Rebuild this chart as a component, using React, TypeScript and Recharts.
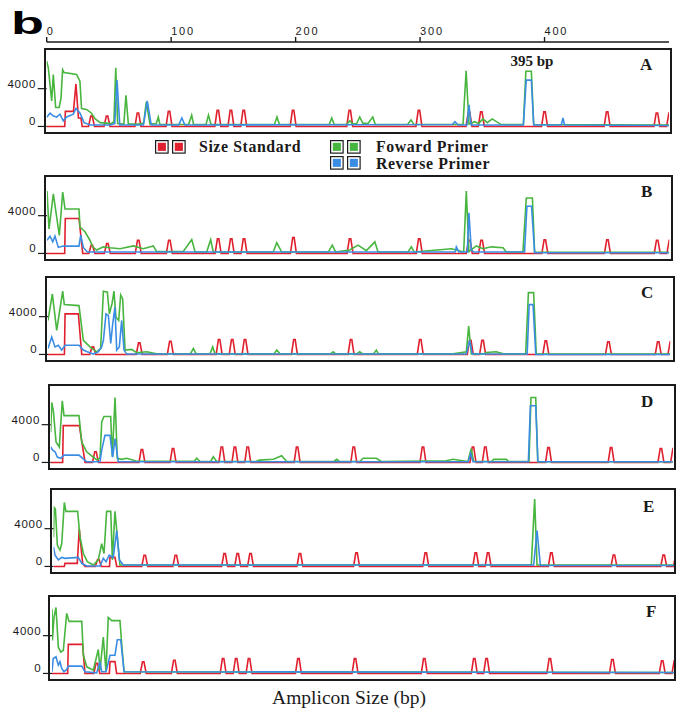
import { Line, LineChart, XAxis, YAxis } from "recharts";

type Pt = [number, number];

// size standard fragments, as placed on the top bp axis
const STANDARD_BP = [36, 48.5, 73.3, 98.3, 137.5, 148, 158.3, 198, 243.5, 299.1, 339.3, 349.2, 400, 450.3, 490.3, 500.5];
const TOP_TICKS = [0, 100, 200, 300, 400];
const Y_TICKS = [0, 4000];

// ---- panel A ----
const greenA: Pt[] = [[0, 6900], [1.3, 6200], [4, 2700], [5.3, 5500], [7.2, 2000], [10, 2000], [11.5, 3000], [12.8, 6000], [14, 5700], [24, 5500], [26.7, 4800], [28, 1900], [32, 1800], [36, 1400], [39, 800], [43, 400], [52, 300], [54, 500], [55.5, 6200], [57, 300], [62, 250], [63.7, 3300], [65.6, 250], [75, 250], [78, 400], [80, 2600], [83, 250], [88, 300], [89.7, 1000], [91, 200], [114, 200], [116.5, 1200], [118, 200], [128, 200], [130, 1200], [132, 200], [183, 200], [185, 1000], [187, 200], [227, 200], [229, 900], [231, 200], [241, 200], [243.5, 600], [246, 250], [249, 300], [251.5, 1000], [254, 350], [258, 300], [262, 1000], [264, 200], [290, 200], [292.7, 700], [295, 200], [334.5, 200], [337, 5900], [339.3, 250], [344, 500], [347, 300], [350.5, 800], [354, 400], [358, 800], [365, 200], [383, 200], [385, 5850], [389.4, 5850], [391.3, 200], [500, 150]];
const blueA: Pt[] = [[0, 970], [2.7, 1400], [5.4, 1100], [8, 1000], [10.6, 1300], [13.3, 600], [16, 1000], [21.4, 1300], [23.5, 1900], [26.8, 1400], [30, 400], [35, 150], [51, 150], [54.7, 300], [56.5, 4900], [58.7, 150], [77.7, 150], [80.8, 2700], [84, 150], [106, 150], [108.6, 900], [111, 150], [326, 200], [328, 500], [330.5, 150], [337.7, 150], [339.3, 2300], [341, 150], [383, 150], [385.3, 4900], [389.4, 4900], [391.3, 150], [413.5, 150], [414.8, 900], [416, 150], [500, 100]];
const redA: Pt[] = [[0, 0], [14.5, 0], [15, 1600], [21.5, 1600], [23.5, 4500], [25.5, 900], [27.5, 900], [28.5, 0]];
const stdA = [1090, 1090, 1430, 1610, 1710, 1710, 1710, 1710, 1710, 1710, 1500, 1540, 1540, 1540, 1430, 1430];

// ---- panel B ----
const greenB: Pt[] = [[0, 6600], [1.6, 2600], [5.1, 6300], [9.9, 1900], [12.6, 6500], [14.5, 4700], [25.7, 4700], [26.5, 2800], [30.5, 2300], [34.5, 1400], [36.7, 700], [39.9, 360], [45.2, 700], [50.6, 600], [58.7, 500], [69.4, 800], [77.4, 500], [85.4, 800], [88.1, 200], [109.5, 200], [116.3, 1460], [119, 150], [128.3, 150], [131.5, 1460], [133.6, 150], [181.8, 150], [184.6, 1130], [188.6, 150], [226, 150], [229.2, 880], [232, 150], [243.2, 360], [249.9, 880], [256.6, 300], [263.4, 1230], [266, 150], [290, 150], [292.8, 700], [295, 150], [318.2, 420], [325, 500], [334.8, 150], [336.9, 6600], [339, 200], [344.9, 800], [350.3, 500], [356.9, 700], [366.4, 600], [369, 150], [382.4, 150], [385.1, 5870], [390, 5870], [391.8, 150], [500, 120]];
const blueB: Pt[] = [[0, 1400], [2.4, 1820], [4.6, 1230], [6.4, 1820], [9.1, 640], [13.1, 780], [25.7, 780], [27.1, 1930], [29.2, 640], [32.4, 150], [328, 150], [328.9, 700], [331, 150], [337.7, 150], [339, 4300], [340.9, 350], [343, 150], [383.7, 150], [385.6, 5000], [389.3, 5000], [391.8, 80], [500, 80]];
const redB: Pt[] = [[0, 0], [14.2, 0], [14.7, 3700], [25.7, 3700], [28.7, 0]];
const stdB = [850, 1050, 1400, 1400, 1540, 1540, 1540, 1680, 1550, 1550, 1400, 1400, 1450, 1450, 1400, 1400];

// ---- panel C ----
const greenC: Pt[] = [[0, 3600], [3.5, 6400], [7, 2550], [11.8, 6700], [13.1, 5280], [24.9, 5170], [28.4, 1500], [33.7, 800], [39.1, 280], [42.3, 630], [44.5, 6700], [47.7, 6600], [49.3, 4300], [51.4, 5350], [53, 6700], [54.6, 3950], [56.8, 3600], [58.4, 6300], [60, 5870], [61.9, 460], [67.2, 530], [71.2, 180], [79.3, 280], [87.3, 80], [114.5, 80], [116.8, 630], [118.9, 80], [130.2, 80], [132.3, 800], [134.2, 60], [181.5, 60], [183.8, 460], [186.4, 60], [227, 60], [229.2, 280], [231, 60], [248, 60], [250.4, 280], [253, 60], [261.5, 60], [263.8, 460], [265.5, 60], [325.4, 60], [336.1, 280], [338, 3000], [340.1, 60], [350, 60], [352.1, 200], [360, 280], [366, 60], [383.8, 60], [386, 6550], [390.2, 6550], [392.3, 40], [500, 40]];
const blueC: Pt[] = [[0, 640], [3, 1850], [5.6, 800], [8.3, 980], [11, 460], [13.7, 980], [24.9, 980], [28.4, 460], [31.6, 280], [36.4, 40], [40.4, 280], [43.1, 800], [44.5, 1500], [46.6, 4300], [48.5, 4130], [50.4, 1160], [52, 3250], [53.8, 5000], [55.2, 460], [57.3, 800], [59.2, 3600], [61.1, 460], [63.2, 40], [336.1, 40], [338.8, 1500], [340.9, 40], [385, 40], [386.6, 5280], [389.7, 5280], [391.9, 0], [500, 0]];
const redC: Pt[] = [[0, 0], [13.2, 0], [13.7, 4300], [24.4, 4300], [27.1, 0]];
const stdC = [800, null, 1230, 1400, 1580, 1580, 1580, 1580, 1580, 1580, 1500, 1500, 1450, 1350, 1350, 1350];

// ---- panel D ----
const greenD: Pt[] = [[0, 3200], [0.8, 6350], [2.1, 5490], [4.3, 2170], [6.9, 1640], [9.3, 6530], [10.7, 4960], [22.7, 4960], [24.9, 2170], [28.9, 1130], [32.9, 700], [37, 270], [39.6, 440], [41, 4280], [42.8, 4870], [48.2, 4870], [49.5, 600], [51.7, 6880], [53.5, 440], [57, 330], [61.1, 440], [69.1, 120], [115.5, 120], [117.3, 440], [120, 100], [128.5, 100], [130.6, 600], [133.4, 100], [165, 100], [167.6, 250], [178.9, 330], [185.6, 700], [189.6, 100], [227.5, 100], [229.8, 330], [232, 100], [248.5, 100], [250.9, 440], [261.6, 440], [265.6, 100], [317.8, 180], [323.2, 330], [335.2, 100], [337.9, 1470], [339.8, 100], [354, 100], [356, 330], [366.1, 330], [368, 100], [384.3, 100], [385.9, 6880], [389.7, 6880], [391.3, 70], [500, 70]];
const blueD: Pt[] = [[0, 1640], [1.6, 1300], [3.5, 1130], [5.3, 570], [8, 440], [10.7, 780], [22.7, 780], [25.7, 440], [28.9, 70], [39.6, 70], [41, 1300], [43.6, 2870], [47.6, 2870], [49.8, 570], [51.7, 2520], [54.3, 70], [335.5, 70], [337.4, 950], [339.3, 70], [383.8, 70], [385.4, 6010], [389.7, 6010], [391.5, 70], [500, 70]];
const redD: Pt[] = [[0, 0], [9.6, 0], [10.1, 3900], [23, 3900], [27.6, 0]];
const stdD = [1130, null, 1370, 1470, 1640, 1640, 1640, 1640, 1640, 1640, 1640, 1640, 1570, 1570, 1470, 1470];

// ---- panel E ----
const greenE: Pt[] = [[0, 3100], [0.5, 6250], [1.5, 6080], [3.1, 2240], [5.2, 1720], [6.6, 2400], [8.7, 6770], [10, 5830], [19.4, 5830], [21.3, 3110], [24, 1370], [27.2, 500], [32, 150], [36, 700], [38.7, 2400], [40.6, 1370], [42.7, 5830], [46, 5830], [47.3, 700], [49.4, 5830], [51.3, 3110], [53.4, 150], [383.9, 150], [386.6, 7130], [388.5, 150], [500, 150]];
const blueE: Pt[] = [[0, 2070], [1.2, 1190], [3.9, 700], [6.6, 960], [9.2, 860], [19.9, 960], [22.7, 330], [26.7, 50], [37.4, 50], [40, 860], [42.2, 500], [44.8, 1190], [48, 960], [50.8, 3800], [52.9, 700], [56.1, 150], [385.8, 150], [388.5, 3810], [391.2, 100], [500, 100]];
const redE: Pt[] = [[0, 0], [8.7, 0], [9.2, 320], [19.1, 320], [20.7, 3990], [23.4, 320], [25.3, 0], [45, 0], [45.4, 960], [49.4, 960], [50.8, 0]];
const stdE = [740, null, 1190, 1190, 1370, 1370, 1370, 1370, 1440, 1440, 1440, 1440, 1440, 1200, 1200, 1200];

// ---- panel F ----
const greenF: Pt[] = [[0, 6800], [0.3, 3500], [1.6, 5930], [3.2, 6980], [5.1, 2800], [7, 2270], [9.1, 2450], [11.8, 6360], [13.7, 5510], [23.9, 5510], [25.2, 1930], [27.9, 700], [33.2, 350], [37.2, 2530], [38.6, 350], [41.2, 3840], [43.4, 180], [45.2, 5930], [48, 5590], [54.6, 5590], [56, 3140], [57.9, 180], [500, 100]];
const blueF: Pt[] = [[0, 180], [1, 1580], [3.2, 1760], [5.1, 880], [6.4, 1230], [7.8, 530], [9.6, 180], [11.8, 430], [13.1, 780], [23.9, 780], [26.5, 180], [35.9, 60], [38.6, 1230], [39.9, 180], [43.4, 180], [44.4, 700], [46.6, 1930], [50.6, 1930], [52.5, 3570], [55.2, 3570], [57.9, 180], [500, 100]];
const redF: Pt[] = [[0, 0], [12.6, 0], [13.1, 3080], [24.6, 3080], [26.5, 0], [46.1, 0], [46.6, 1250], [50.6, 1250], [51.9, 0]];
const stdF = [1080, null, 1230, 1400, 1580, 1580, 1580, 1580, 1580, 1580, 1580, 1580, 1580, 1480, 1340, 1340];

const RED = "#e0202e";
const GREEN = "#48b53f";
const BLUE = "#3b8de3";
const INK = "#1a1a1a";
const SANS = "'Liberation Sans', Arial, sans-serif";
const SERIF = "'Liberation Serif', 'Times New Roman', serif";

const PLOT_W = 622.3; // 0..500 bp
const PLOT_H = 85;
const Y_MIN = -800;
const Y_MAX = 8200;

const rows = (pts: Pt[]) => pts.map(([x, y]) => ({ x, y }));

// red trace = primer-dimer region + the size standard peaks
function sizeStandard(primer: Pt[], heights: (number | null)[]) {
  const peaks: Pt[] = [];
  STANDARD_BP.forEach((bp, i) => {
    const h = heights[i];
    if (!h) return;
    peaks.push([bp - 2.4, 0], [bp - 0.6, h], [bp + 0.6, h], [bp + 2.4, 0]);
  });
  return [...primer, ...peaks].sort((a, b) => a[0] - b[0]);
}

const PANELS = [
  { name: "A", green: greenA, blue: blueA, red: sizeStandard(redA, stdA), boxLeft: 44, boxRight: 672, boxTop: 48, plotLeft: 46.7, lx: 640, ly: 70 },
  { name: "B", green: greenB, blue: blueB, red: sizeStandard(redB, stdB), boxLeft: 44, boxRight: 673, boxTop: 175, plotLeft: 47, lx: 641, ly: 197 },
  { name: "C", green: greenC, blue: blueC, red: sizeStandard(redC, stdC), boxLeft: 45, boxRight: 675, boxTop: 276, plotLeft: 48, lx: 641, ly: 298 },
  { name: "D", green: greenD, blue: blueD, red: sizeStandard(redD, stdD), boxLeft: 48, boxRight: 676, boxTop: 384, plotLeft: 50.7, lx: 641, ly: 407 },
  { name: "E", green: greenE, blue: blueE, red: sizeStandard(redE, stdE), boxLeft: 50, boxRight: 676, boxTop: 488, plotLeft: 53.5, lx: 643, ly: 512 },
  { name: "F", green: greenF, blue: blueF, red: sizeStandard(redF, stdF), boxLeft: 48, boxRight: 676, boxTop: 595, plotLeft: 52, lx: 646, ly: 617 },
];

type PanelDef = (typeof PANELS)[number];

const YTick = (props: any) => (
  <text x={props.x} y={props.y} dy={-1} textAnchor="end" fontFamily={SANS} fontSize={11.5} letterSpacing={0.8} fill={INK}>
    {props.payload.value}
  </text>
);

const TopTick = (props: any) => (
  <text x={props.x} y={props.y} textAnchor="start" fontFamily={SANS} fontSize={11} letterSpacing={1.8} fill={INK}>
    {props.payload.value}
  </text>
);

function Panel({ p, first }: { p: PanelDef; first: boolean }) {
  const plotTop = first ? 42 : p.boxTop + 1;
  const plotBottom = p.boxTop + 86;
  const chartTop = first ? 0 : p.boxTop - 10;
  const height = plotBottom + 10 - chartTop;
  const pxPerUnit = PLOT_H / (Y_MAX - Y_MIN);
  const yMax = Y_MAX + (p.boxTop + 1 - plotTop) / pxPerUnit;
  const line = (pts: Pt[], color: string) => (
    <Line
      data={rows(pts)}
      dataKey="y"
      type="linear"
      stroke={color}
      strokeWidth={1.6}
      dot={false}
      activeDot={false}
      isAnimationActive={false}
    />
  );
  return (
    <div style={{ position: "absolute", left: 0, top: chartTop }}>
      <LineChart
        width={686}
        height={height}
        margin={{ top: first ? 0 : plotTop - chartTop, right: 686 - p.plotLeft - PLOT_W, bottom: 10, left: 0 }}
      >
        <XAxis
          type="number"
          dataKey="x"
          domain={[0, 500]}
          allowDataOverflow
          hide={!first}
          orientation="top"
          height={42}
          ticks={TOP_TICKS}
          interval={0}
          tickSize={5}
          tickMargin={2.5}
          tick={<TopTick />}
          axisLine={{ stroke: INK, strokeWidth: 1.6 }}
          tickLine={{ stroke: INK, strokeWidth: 1.4 }}
        />
        <YAxis
          type="number"
          width={p.plotLeft}
          domain={[Y_MIN, yMax]}
          allowDataOverflow
          ticks={Y_TICKS}
          interval={0}
          axisLine={false}
          tickSize={9}
          tickMargin={1.5}
          tick={<YTick />}
          tickLine={{ stroke: INK, strokeWidth: 1.2 }}
        />
        {line(p.red, RED)}
        {line(p.green, GREEN)}
        {line(p.blue, BLUE)}
      </LineChart>
    </div>
  );
}

function LegendPair({ x, y, color }: { x: number; y: number; color: string }) {
  return (
    <g>
      {[0, 17].map((dx) => (
        <g key={dx}>
          <rect x={x + dx + 0.6} y={y + 0.6} width={12.5} height={12.5} fill="#fff" stroke={INK} strokeWidth={1.2} />
          <rect x={x + dx + 2.8} y={y + 2.8} width={8.1} height={8.1} fill={color} />
        </g>
      ))}
    </g>
  );
}

export default function App() {
  return (
    <div style={{ position: "absolute", left: 0, top: 0, width: 686, height: 715, background: "#fff", overflow: "hidden" }}>
      {PANELS.map((p, i) => (
        <Panel key={p.name} p={p} first={i === 0} />
      ))}
      <svg width={686} height={715} style={{ position: "absolute", left: 0, top: 0, pointerEvents: "none" }}>
        {PANELS.map((p) => (
          <g key={p.name}>
            <rect x={p.boxLeft + 1} y={p.boxTop + 1} width={p.boxRight - p.boxLeft - 2} height={84} fill="none" stroke={INK} strokeWidth={2} />
            <text x={p.lx} y={p.ly} fontFamily={SERIF} fontWeight="bold" fontSize={17} fill={INK}>
              {p.name}
            </text>
          </g>
        ))}
        <text x={11} y={34} fontFamily={SANS} fontWeight="bold" fontSize={30.5} textLength={33} lengthAdjust="spacingAndGlyphs" fill="#000">
          b
        </text>
        <text x={532} y={66} textAnchor="middle" fontFamily={SERIF} fontWeight="bold" fontSize={15} fill={INK}>
          395 bp
        </text>
        <LegendPair x={155} y={140} color={RED} />
        <LegendPair x={330} y={140} color={GREEN} />
        <LegendPair x={330} y={156} color={BLUE} />
        <text x={199} y={151.5} fontFamily={SERIF} fontWeight="bold" fontSize={15.8} letterSpacing={0.6} fill={INK}>
          Size Standard
        </text>
        <text x={376} y={151.5} fontFamily={SERIF} fontWeight="bold" fontSize={15.8} letterSpacing={0.6} fill={INK}>
          Foward Primer
        </text>
        <text x={376} y={169} fontFamily={SERIF} fontWeight="bold" fontSize={15.8} letterSpacing={0.6} fill={INK}>
          Reverse Primer
        </text>
        <text x={349} y={704} textAnchor="middle" fontFamily={SERIF} fontSize={19.5} fill={INK}>
          Amplicon Size (bp)
        </text>
      </svg>
    </div>
  );
}
